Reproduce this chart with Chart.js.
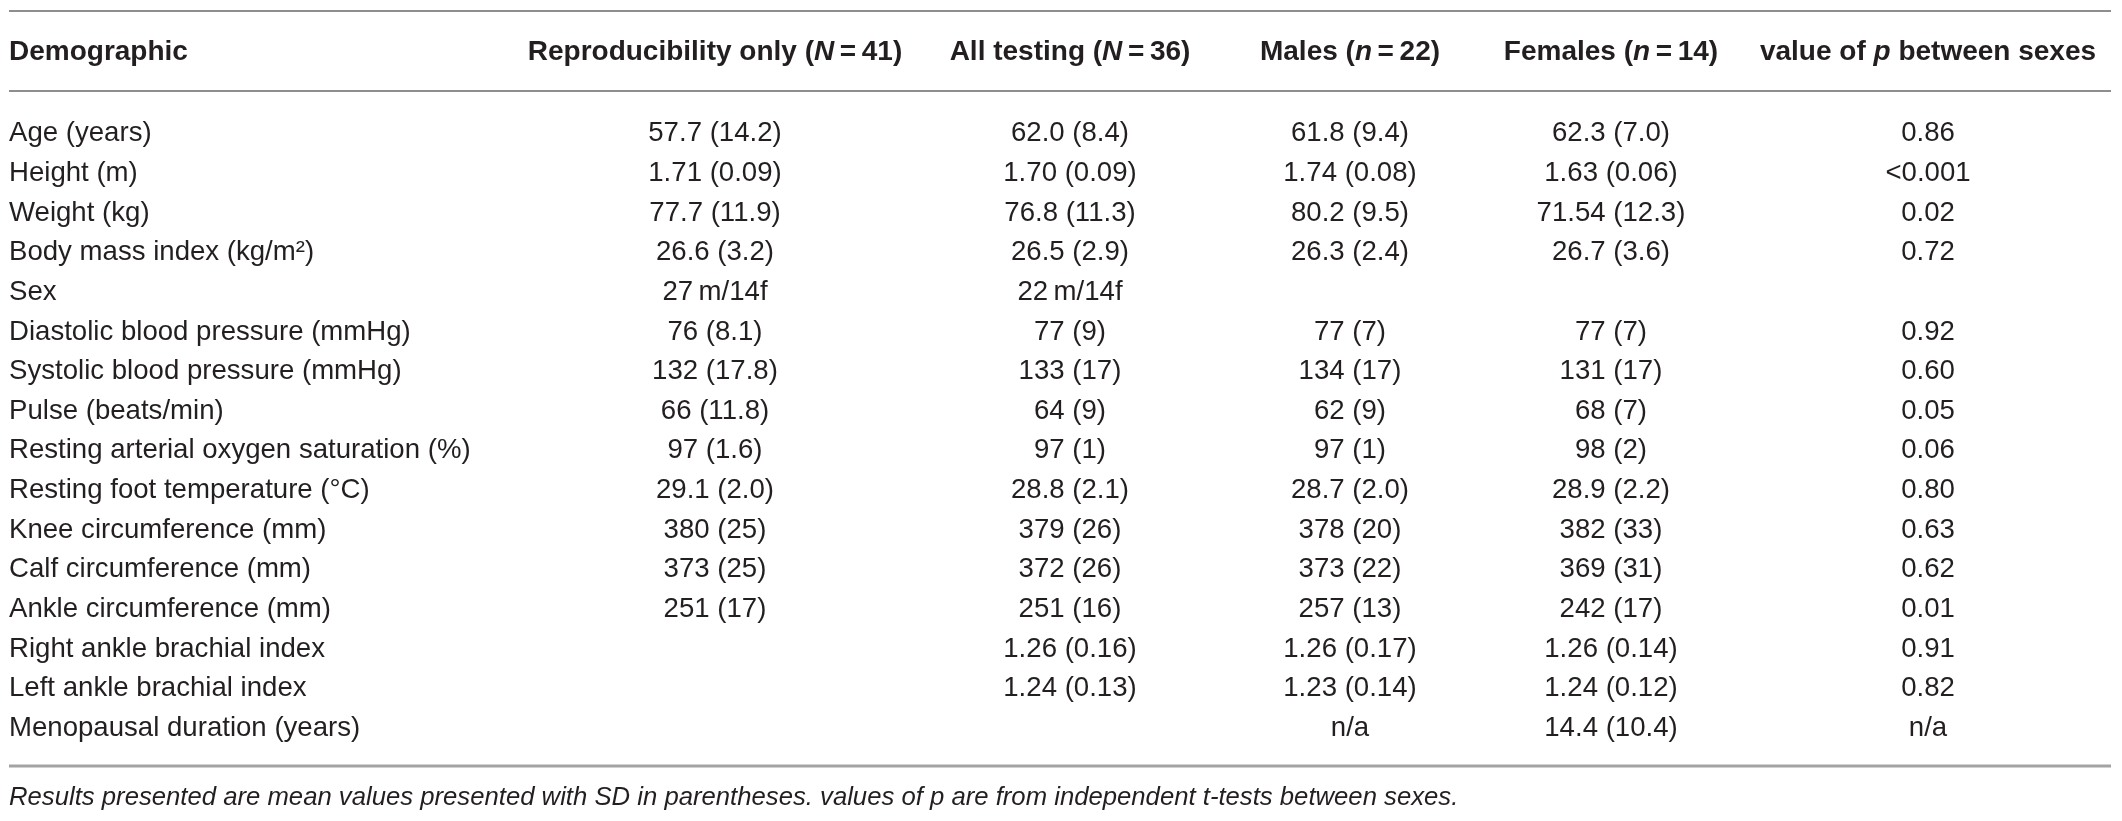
<!DOCTYPE html>
<html>
<head>
<meta charset="utf-8">
<script src="https://cdn.jsdelivr.net/npm/chart.js@4.4.0/dist/chart.umd.min.js"></script>
<style>
  html, body { margin: 0; padding: 0; background: #fff; }
  canvas { display: block; }
</style>
</head>
<body>
<canvas id="tbl" width="2122" height="821"></canvas>
<script>
// table contents (italic parts marked with *...*)
const headers = ['Demographic', 'Reproducibility only (*N*\u2009=\u200941)', 'All testing (*N*\u2009=\u200936)',
  'Males (*n*\u2009=\u200922)', 'Females (*n*\u2009=\u200914)', 'value of *p* between sexes'];

const demographics = ['Age (years)', 'Height (m)', 'Weight (kg)', 'Body mass index (kg/m\u00b2)', 'Sex',
  'Diastolic blood pressure (mmHg)', 'Systolic blood pressure (mmHg)', 'Pulse (beats/min)',
  'Resting arterial oxygen saturation (%)', 'Resting foot temperature (\u00b0C)', 'Knee circumference (mm)',
  'Calf circumference (mm)', 'Ankle circumference (mm)', 'Right ankle brachial index',
  'Left ankle brachial index', 'Menopausal duration (years)'];

const reproOnly = ['57.7 (14.2)', '1.71 (0.09)', '77.7 (11.9)', '26.6 (3.2)', '27\u2009m/14f', '76 (8.1)',
  '132 (17.8)', '66 (11.8)', '97 (1.6)', '29.1 (2.0)', '380 (25)', '373 (25)', '251 (17)', null, null, null];
const allTesting = ['62.0 (8.4)', '1.70 (0.09)', '76.8 (11.3)', '26.5 (2.9)', '22\u2009m/14f', '77 (9)',
  '133 (17)', '64 (9)', '97 (1)', '28.8 (2.1)', '379 (26)', '372 (26)', '251 (16)', '1.26 (0.16)', '1.24 (0.13)', null];
const males = ['61.8 (9.4)', '1.74 (0.08)', '80.2 (9.5)', '26.3 (2.4)', null, '77 (7)',
  '134 (17)', '62 (9)', '97 (1)', '28.7 (2.0)', '378 (20)', '373 (22)', '257 (13)', '1.26 (0.17)', '1.23 (0.14)', 'n/a'];
const females = ['62.3 (7.0)', '1.63 (0.06)', '71.54 (12.3)', '26.7 (3.6)', null, '77 (7)',
  '131 (17)', '68 (7)', '98 (2)', '28.9 (2.2)', '382 (33)', '369 (31)', '242 (17)', '1.26 (0.14)', '1.24 (0.12)', '14.4 (10.4)'];
const pValues = ['0.86', '<0.001', '0.02', '0.72', null, '0.92',
  '0.60', '0.05', '0.06', '0.80', '0.63', '0.62', '0.01', '0.91', '0.82', 'n/a'];

const footnote = 'Results presented are mean values presented with SD in parentheses. values of p are from independent t-tests between sexes.';

// layout: relative column widths of the table
const colWidths = [504, 404, 306, 254, 268, 366];
const colCenter = c => colWidths.slice(0, c).reduce((a, b) => a + b, 0) + colWidths[c] / 2;

const FONT = '"Liberation Sans", Arial, Helvetica, sans-serif';
const INK = '#231f20';

function drawRich(ctx, text, x, y, align, size, bold) {
  const parts = text.split('*').map((s, i) => ({ s, it: i % 2 === 1 }));
  const fontOf = p => (p.it ? 'italic ' : '') + (bold ? 'bold ' : '') + size + 'px ' + FONT;
  let w = 0;
  parts.forEach(p => { ctx.font = fontOf(p); w += ctx.measureText(p.s).width; });
  let cx = align === 'center' ? x - w / 2 : x;
  ctx.textAlign = 'left';
  parts.forEach(p => { ctx.font = fontOf(p); ctx.fillText(p.s, cx, y); cx += ctx.measureText(p.s).width; });
}

const tablePlugin = {
  id: 'tableText',
  afterDatasetsDraw(chart) {
    const { ctx, chartArea, scales } = chart;
    ctx.save();
    ctx.fillStyle = INK;
    ctx.textBaseline = 'middle';

    // horizontal rules
    ctx.strokeStyle = '#8e8e8e';
    ctx.lineWidth = 2;
    [11, chartArea.top - 23].forEach(y => {
      ctx.beginPath(); ctx.moveTo(chartArea.left, y); ctx.lineTo(chartArea.right, y); ctx.stroke();
    });
    ctx.strokeStyle = '#a3a3a3';
    ctx.lineWidth = 3;
    ctx.beginPath(); ctx.moveTo(chartArea.left, chartArea.bottom + 18); ctx.lineTo(chartArea.right, chartArea.bottom + 18); ctx.stroke();

    // header row
    headers.forEach((h, c) => {
      const x = c === 0 ? chartArea.left : scales.x.getPixelForValue(colCenter(c));
      drawRich(ctx, h, x, 52, c === 0 ? 'left' : 'center', 28, true);
    });

    // row labels from the category scale
    ctx.font = '27.6px ' + FONT;
    ctx.textAlign = 'left';
    scales.y.getLabels().forEach((lab, i) => {
      ctx.fillText(lab, chartArea.left, scales.y.getPixelForValue(i));
    });

    // cells
    ctx.textAlign = 'center';
    chart.data.datasets.forEach((ds, di) => {
      chart.getDatasetMeta(di).data.forEach((pt, i) => {
        ctx.fillText(ds.data[i].t, pt.x, pt.y);
      });
    });

    // footnote
    ctx.font = 'italic 25.7px ' + FONT;
    ctx.textAlign = 'left';
    ctx.fillText(footnote, chartArea.left, chartArea.bottom + 50);
    ctx.restore();
  }
};

const columns = [reproOnly, allTesting, males, females, pValues];

new Chart(document.getElementById('tbl'), {
  type: 'scatter',
  data: {
    datasets: columns.map((vals, c) => ({
      label: headers[c + 1],
      data: vals.map((v, i) => v === null ? null : { x: colCenter(c + 1), y: demographics[i], t: v }).filter(Boolean),
      pointRadius: 0,
      pointHoverRadius: 0
    }))
  },
  options: {
    responsive: false,
    devicePixelRatio: 1,
    animation: false,
    layout: { padding: { left: 9, right: 11, top: 114, bottom: 73 } },
    plugins: { legend: { display: false }, tooltip: { enabled: false } },
    scales: {
      x: { type: 'linear', display: false, min: 0, max: colWidths.reduce((a, b) => a + b, 0) },
      y: { type: 'category', labels: demographics, offset: true, display: false }
    }
  },
  plugins: [tablePlugin]
});
</script>
</body>
</html>
